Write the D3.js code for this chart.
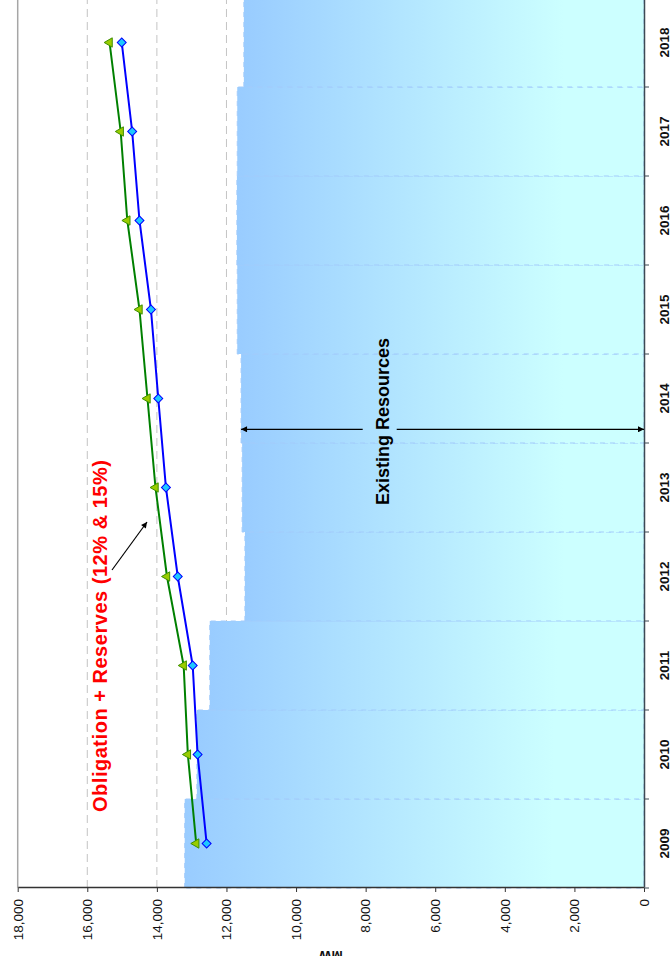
<!DOCTYPE html>
<html>
<head>
<meta charset="utf-8">
<script src="https://cdn.jsdelivr.net/npm/d3@7"></script>
<style>
  html, body { margin: 0; padding: 0; background: #fff; }
  svg { display: block; font-family: "Liberation Sans", Arial, Helvetica, sans-serif; }
</style>
</head>
<body>
<svg id="chart" width="671" height="956"></svg>
<script>
// Years on the category axis
const years = ["2009", "2010", "2011", "2012", "2013", "2014", "2015", "2016", "2017", "2018"];
// Existing resources (MW)
const existingResources = [13200, 12850, 12480, 11470, 11550, 11580, 11690, 11700, 11690, 11500];
// Obligation + 12% reserves (MW)
const obligationReserve12 = [12570, 12830, 12970, 13400, 13740, 13960, 14170, 14500, 14710, 15010];
// Obligation + 15% reserves (MW)
const obligationReserve15 = [12870, 13110, 13230, 13710, 14040, 14270, 14500, 14850, 15040, 15360];
// Value axis ticks
const valueTicks = [0, 2000, 4000, 6000, 8000, 10000, 12000, 14000, 16000, 18000];

const svg = d3.select("#chart");
const W = 956;            // width of the landscape drawing
// The chart is laid out landscape and turned a quarter turn to fit the page.
const g = svg.append("g").attr("transform", `translate(0,${W}) rotate(-90)`);

const plot = { left: 68, right: 958, top: 17.7, bottom: 644 };
const x = d3.scaleBand().domain(years).range([plot.left, plot.right]).padding(0);
const y = d3.scaleLinear().domain([0, 18000]).range([plot.bottom, plot.top]);
const bw = x.bandwidth();

const defs = svg.append("defs");
const grad = defs.append("linearGradient")
  .attr("id", "barFill").attr("x1", 0).attr("y1", 0).attr("x2", 0).attr("y2", 1);
grad.append("stop").attr("offset", "0%").attr("stop-color", "#99ccff");
grad.append("stop").attr("offset", "80%").attr("stop-color", "#ccffff");
grad.append("stop").attr("offset", "100%").attr("stop-color", "#ccffff");

defs.append("marker")
  .attr("id", "arrowHead")
  .attr("viewBox", "0 0 10 10")
  .attr("refX", 10).attr("refY", 5)
  .attr("markerWidth", 7).attr("markerHeight", 6)
  .attr("markerUnits", "userSpaceOnUse")
  .attr("orient", "auto")
  .append("path").attr("d", "M0,0L10,5L0,10Z").attr("fill", "#000");

// Horizontal gridlines (value axis)
g.append("g").selectAll("line")
  .data(valueTicks.filter(v => v > 0))
  .join("line")
  .attr("x1", plot.left).attr("x2", plot.right)
  .attr("y1", d => y(d)).attr("y2", d => y(d))
  .attr("stroke", d => d === 18000 ? "#a6a6a6" : "#c4c4c4")
  .attr("stroke-width", d => d === 18000 ? 1.5 : 1)
  .attr("stroke-dasharray", d => d === 18000 ? null : "8,5");

// Existing resources bars
g.append("g").selectAll("rect")
  .data(years.map((yr, i) => ({ yr, v: existingResources[i] })))
  .join("rect")
  .attr("x", d => x(d.yr))
  .attr("width", bw)
  .attr("y", d => y(d.v))
  .attr("height", d => y(0) - y(d.v))
  .attr("fill", "url(#barFill)")
  .attr("stroke", "#a2cbfb")
  .attr("stroke-width", 1)
  .attr("stroke-dasharray", "5,5");

// Value axis
const yAxis = g.append("g")
  .attr("transform", `translate(${plot.left},0)`)
  .call(d3.axisLeft(y).tickValues(valueTicks).tickSize(4).tickSizeOuter(0)
    .tickPadding(7).tickFormat(d3.format(",")));
yAxis.select(".domain").attr("stroke", "#333").attr("stroke-width", 1.5);
yAxis.selectAll(".tick line").attr("stroke", "#333");
yAxis.selectAll(".tick text")
  .attr("font-family", '"Liberation Sans", Arial, sans-serif')
  .attr("font-size", 13.5).attr("fill", "#111");

// Category axis
const xAxis = g.append("g")
  .attr("transform", `translate(0,${plot.bottom})`)
  .call(d3.axisBottom(x).tickSize(0).tickPadding(15.6));
xAxis.select(".domain").attr("stroke", "#3d4a55").attr("stroke-width", 1.5);
xAxis.selectAll(".tick text")
  .attr("font-family", '"Liberation Sans", Arial, sans-serif')
  .attr("font-size", 13.5).attr("font-weight", "bold").attr("fill", "#111");
g.append("g").selectAll("line")
  .data(years.map(yr => x(yr)).concat([plot.right]))
  .join("line")
  .attr("x1", d => d).attr("x2", d => d)
  .attr("y1", plot.bottom).attr("y2", plot.bottom + 5)
  .attr("stroke", "#3d4a55").attr("stroke-width", 1);

// Axis title
g.append("text")
  .attr("transform", `translate(5,${(plot.top + plot.bottom) / 2}) rotate(-90)`)
  .attr("text-anchor", "middle")
  .attr("font-size", 13.5).attr("font-weight", "bold").attr("fill", "#111")
  .text("MW");

// Obligation + reserve lines
const line = d3.line().x(d => x(d.yr) + bw / 2).y(d => y(d.v));
const s12 = years.map((yr, i) => ({ yr, v: obligationReserve12[i] }));
const s15 = years.map((yr, i) => ({ yr, v: obligationReserve15[i] }));

g.append("path").datum(s12).attr("d", line)
  .attr("fill", "none").attr("stroke", "#0000ff").attr("stroke-width", 2);
g.append("path").datum(s15).attr("d", line)
  .attr("fill", "none").attr("stroke", "#008000").attr("stroke-width", 2);

g.append("g").selectAll("path")
  .data(s12)
  .join("path")
  .attr("d", d3.symbol(d3.symbolSquare, 40))
  .attr("transform", d => `translate(${x(d.yr) + bw / 2},${y(d.v)}) rotate(45)`)
  .attr("fill", "#1ec8ff").attr("stroke", "#0000ff").attr("stroke-width", 1);

g.append("g").selectAll("path")
  .data(s15)
  .join("path")
  .attr("d", d3.symbol(d3.symbolTriangle, 38))
  .attr("transform", d => `translate(${x(d.yr) + bw / 2},${y(d.v)})`)
  .attr("fill", "#99cc00").attr("stroke", "#3f8f00").attr("stroke-width", 1);

// Annotation: obligation + reserves
g.append("text")
  .attr("x", 144).attr("y", 107)
  .attr("font-size", 20).attr("font-weight", "bold").attr("fill", "#ff0000")
  .attr("textLength", 352).attr("lengthAdjust", "spacing")
  .text("Obligation + Reserves (12% & 15%)");
g.append("line")
  .attr("x1", 386).attr("y1", 112).attr("x2", 434).attr("y2", 147)
  .attr("stroke", "#000").attr("stroke-width", 1.2)
  .attr("marker-end", "url(#arrowHead)");

// Annotation: existing resources
const xr = x("2014") + 13.7;
const iRes = years.indexOf("2014");
g.append("line")
  .attr("x1", xr).attr("x2", xr).attr("y1", 362.7).attr("y2", y(existingResources[iRes]))
  .attr("stroke", "#000").attr("stroke-width", 1.3).attr("marker-end", "url(#arrowHead)");
g.append("line")
  .attr("x1", xr).attr("x2", xr).attr("y1", 396.7).attr("y2", y(0))
  .attr("stroke", "#000").attr("stroke-width", 1.3).attr("marker-end", "url(#arrowHead)");
g.append("text")
  .attr("x", x("2014") + 21.5).attr("y", 389)
  .attr("text-anchor", "middle")
  .attr("font-size", 18).attr("font-weight", "bold").attr("fill", "#000")
  .text("Existing Resources");
</script>
</body>
</html>
